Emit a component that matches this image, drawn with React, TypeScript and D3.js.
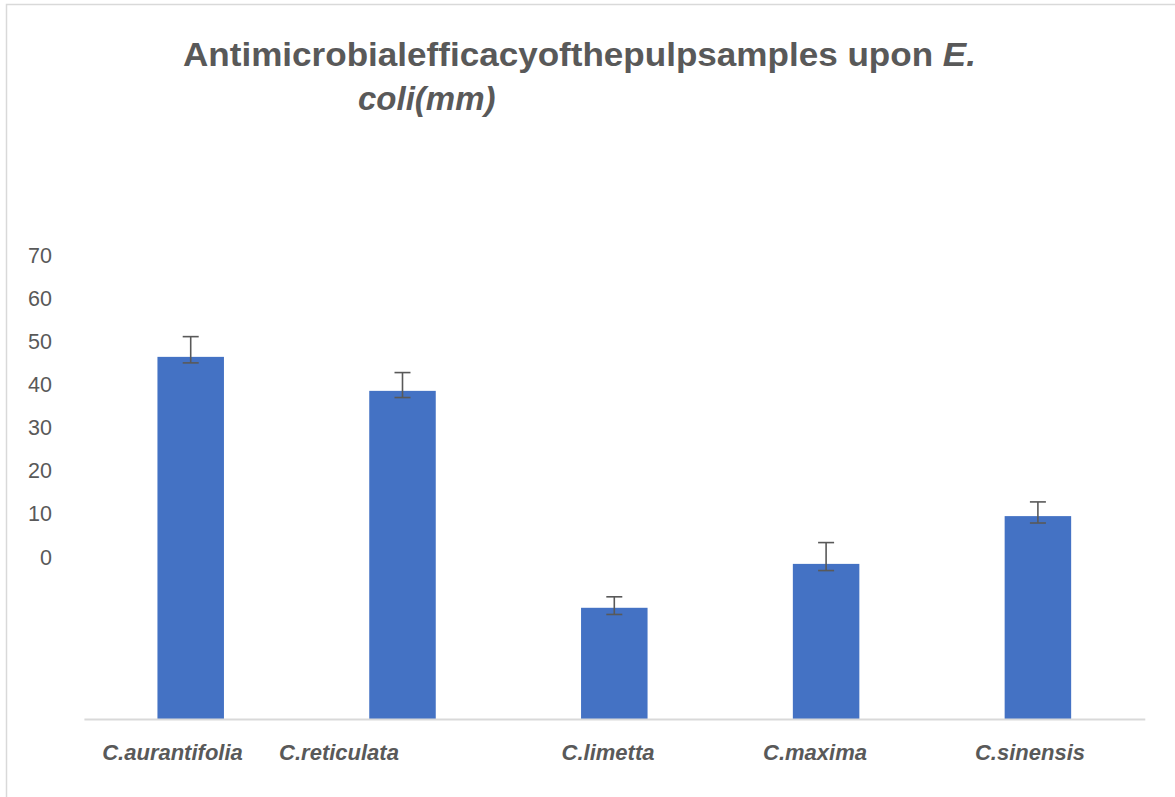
import React from "react";
import * as d3 from "d3";

const categories = ["C.aurantifolia", "C.reticulata", "C.limetta", "C.maxima", "C.sinensis"];
const values = [46.5, 38.6, -11.8, -1.6, 9.5];
const errPlus = [4.7, 4.25, 2.55, 4.95, 3.3];
const errMinus = [1.4, 1.55, 1.55, 1.55, 1.6];
const tickValues = [0, 10, 20, 30, 40, 50, 60, 70];
const titleLine1 = "Antimicrobialefficacyofthepulpsamples upon ";
const titleItalic = "E.";
const titleLine2 = "coli(mm)";

// layout (label centres, as drawn in the reference)
const labelX = [172.5, 339, 608, 815, 1030];

export default function App() {
  const W = 1175, H = 797;
  const baseline = 719;
  const y = d3.scaleLinear().domain([0, 70]).range([557, 557 - 70 * 4.304]);
  const yMin = y.invert(baseline);
  const x = d3.scaleBand<string>().domain(categories).range([84.8, 1143.8]).paddingInner(0.686).paddingOuter(0.343);
  const font = "'Liberation Sans', Arial, sans-serif";
  const grey = "#595959";
  return (
    <svg width={W} height={H} style={{ position: "absolute", left: 0, top: 0, background: "#fff" }}>
      <rect x={6.5} y={4.5} width={1250} height={850} fill="#fff" stroke="#d9d9d9" strokeWidth={1.5} />
      <text x={183} y={66} fontFamily={font} fontWeight="bold" fontSize={33} fill={grey} textLength={793} lengthAdjust="spacingAndGlyphs">
        {titleLine1}
        <tspan fontStyle="italic">{titleItalic}</tspan>
      </text>
      <text x={358} y={110} fontFamily={font} fontWeight="bold" fontStyle="italic" fontSize={33} fill={grey}>
        {titleLine2}
      </text>
      {tickValues.map((t) => (
        <text key={t} x={52} y={y(t)} dy="0.35em" textAnchor="end" fontFamily={font} fontSize={21.5} fill={grey}>
          {t}
        </text>
      ))}
      {categories.map((c, i) => (
        <rect key={c} x={x(c)} y={y(values[i])} width={x.bandwidth()} height={y(yMin) - y(values[i])} fill="#4472C4" />
      ))}
      <line x1={84.4} x2={1145.3} y1={baseline + 0.5} y2={baseline + 0.5} stroke="#d9d9d9" strokeWidth={2} />
      {categories.map((c, i) => {
        const cx = (x(c) as number) + x.bandwidth() / 2;
        const top = y(values[i] + errPlus[i]);
        const bot = y(values[i] - errMinus[i]);
        return (
          <g key={c} stroke={grey} strokeWidth={1.6}>
            <line x1={cx} x2={cx} y1={top} y2={bot} />
            <line x1={cx - 8} x2={cx + 8} y1={top} y2={top} />
            <line x1={cx - 8} x2={cx + 8} y1={bot} y2={bot} />
          </g>
        );
      })}
      {categories.map((c, i) => (
        <text key={c} x={labelX[i]} y={760} textAnchor="middle" fontFamily={font} fontWeight="bold" fontStyle="italic" fontSize={22} fill={grey}>
          {c}
        </text>
      ))}
    </svg>
  );
}
